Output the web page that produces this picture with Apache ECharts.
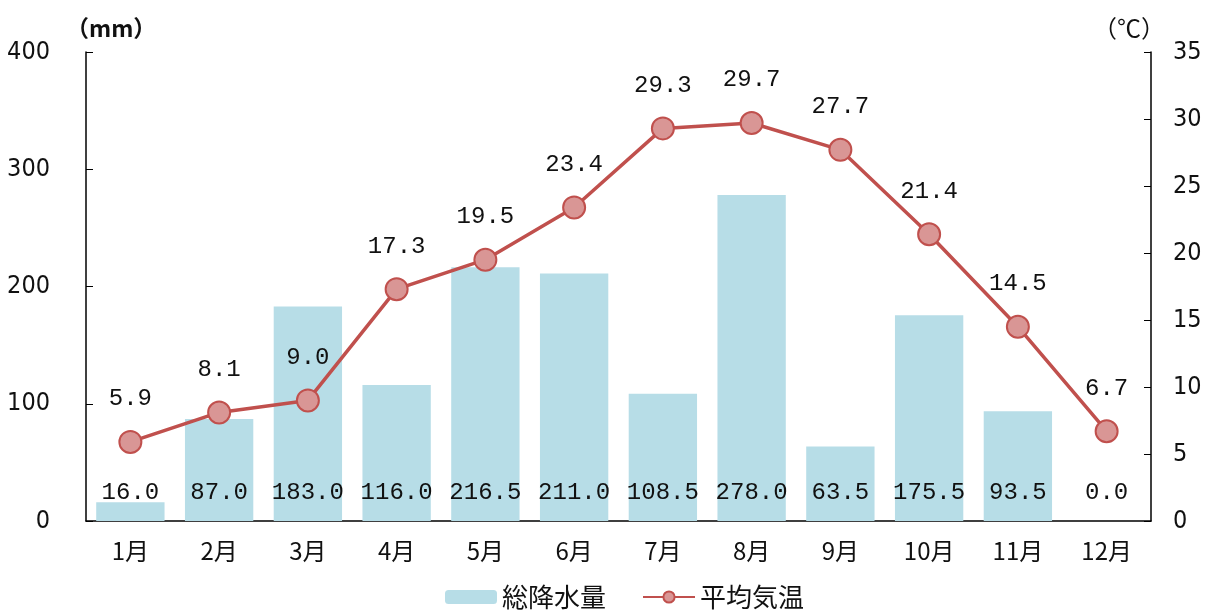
<!DOCTYPE html>
<html>
<head>
<meta charset="utf-8">
<script src="https://cdn.jsdelivr.net/npm/echarts@6/dist/echarts.min.js"></script>
<style>
html, body { margin: 0; padding: 0; background: #fff; }
#chart { width: 1208px; height: 615px; }
</style>
</head>
<body>
<div id="chart"></div>
<script>
var months = ['1月', '2月', '3月', '4月', '5月', '6月', '7月', '8月', '9月', '10月', '11月', '12月'];
var rainfall = [16.0, 87.0, 183.0, 116.0, 216.5, 211.0, 108.5, 278.0, 63.5, 175.5, 93.5, 0.0];
var temperature = [5.9, 8.1, 9.0, 17.3, 19.5, 23.4, 29.3, 29.7, 27.7, 21.4, 14.5, 6.7];

var baseFont = '"DejaVu Sans Condensed", "Liberation Sans", sans-serif';
var numFont = '"Liberation Mono", "DejaVu Sans Mono", monospace';
var jpFont = '"Noto Sans CJK JP", sans-serif';

var chart = echarts.init(document.getElementById('chart'));

chart.setOption({
    animation: false,
    textStyle: { fontFamily: baseFont },
    grid: { left: 86, right: 57, top: 52, bottom: 94 },
    legend: {
        bottom: 0,
        left: 440,
        itemWidth: 52,
        itemHeight: 14,
        itemGap: 36,
        textStyle: { fontSize: 26, color: '#111', fontFamily: jpFont },
        data: ['総降水量', '平均気温']
    },
    xAxis: {
        type: 'category',
        data: months,
        axisLine: { lineStyle: { color: '#000', width: 1.5 } },
        axisTick: { inside: true, length: 7, lineStyle: { color: '#000' } },
        axisLabel: { fontSize: 24, color: '#111', margin: 18, fontFamily: jpFont }
    },
    yAxis: [{
        type: 'value',
        min: 0,
        max: 400,
        interval: 100,
        name: '（mm）',
        nameGap: 12,
        nameTextStyle: { fontSize: 23, fontWeight: 'bold', color: '#111', align: 'left', padding: [0, 0, 0, -20], fontFamily: jpFont },
        axisLine: { show: true, lineStyle: { color: '#000', width: 1.5 } },
        axisTick: { show: true, inside: true, length: 7, lineStyle: { color: '#000' } },
        splitLine: { show: false },
        axisLabel: { fontSize: 25, color: '#111', margin: 36 }
    }, {
        type: 'value',
        min: 0,
        max: 35,
        interval: 5,
        name: '（℃）',
        nameGap: 12,
        nameTextStyle: { fontSize: 24, color: '#111', align: 'right', padding: [0, -14, 0, 0], fontFamily: jpFont },
        axisLine: { show: true, lineStyle: { color: '#000', width: 1.5 } },
        axisTick: { show: true, inside: true, length: 7, lineStyle: { color: '#000' } },
        splitLine: { show: false },
        axisLabel: { fontSize: 25, color: '#111', margin: 22 }
    }],
    series: [{
        name: '総降水量',
        type: 'bar',
        yAxisIndex: 0,
        barWidth: '77%',
        data: rainfall,
        itemStyle: { color: '#b7dde7' },
        label: {
            show: true,
            position: 'insideBottom',
            distance: 16,
            fontSize: 24,
            color: '#111',
            fontFamily: numFont,
            formatter: function (p) { return p.value.toFixed(1); }
        }
    }, {
        name: '平均気温',
        type: 'line',
        yAxisIndex: 1,
        data: temperature,
        symbol: 'circle',
        symbolSize: 22,
        lineStyle: { color: '#c0504d', width: 3.5 },
        itemStyle: { color: '#d99695', borderColor: '#c0504d', borderWidth: 2 },
        label: {
            show: true,
            position: 'top',
            distance: 19,
            fontSize: 24,
            color: '#111',
            fontFamily: numFont,
            formatter: function (p) { return p.value.toFixed(1); }
        }
    }]
});
</script>
</body>
</html>
